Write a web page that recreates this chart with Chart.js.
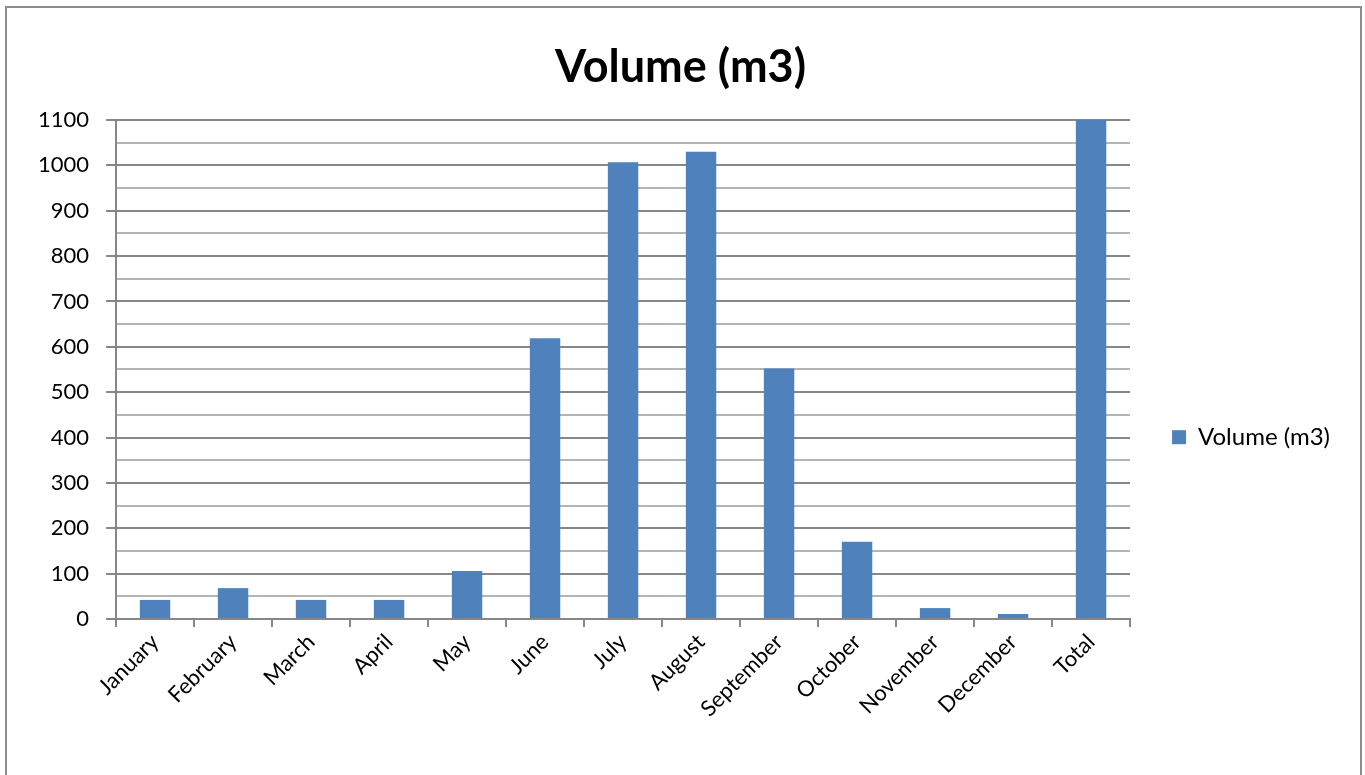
<!DOCTYPE html>
<html>
<head>
<meta charset="utf-8">
<script src="https://cdn.jsdelivr.net/npm/chart.js@4"></script>
<style>
  html, body { margin: 0; padding: 0; background: #fff; }
  #wrap { position: relative; width: 1365px; height: 775px; overflow: hidden; }
  #frame { position: absolute; left: 5px; top: 6px; width: 1357px; height: 800px; border: 2px solid #8c8c8c; box-sizing: border-box; }
  canvas { position: absolute; left: 0; top: 0; }
</style>
</head>
<body>
<div id="wrap">
  <div id="frame"></div>
  <canvas id="c" width="1365" height="775"></canvas>
</div>
<script>
// Monthly volumes plus yearly total
const categories = ['January', 'February', 'March', 'April', 'May', 'June', 'July',
  'August', 'September', 'October', 'November', 'December', 'Total'];
const volumeM3 = [42, 68, 42, 42, 106, 619, 1007, 1030, 552, 170, 24, 11, 1100];
const seriesName = 'Volume (m3)';
const yMax = 1100;
const yStep = 50;

const FONT = "Lato, 'Open Sans', sans-serif";
const MAJOR = '#878787';
const MINOR = '#b5b5b5';

new Chart(document.getElementById('c'), {
  type: 'bar',
  data: {
    labels: categories,
    datasets: [{
      label: seriesName,
      data: volumeM3,
      backgroundColor: '#4f81bd',
      borderWidth: 0,
      categoryPercentage: 1,
      barPercentage: 0.39
    }]
  },
  options: {
    responsive: false,
    devicePixelRatio: 1,
    animation: false,
    layout: { padding: { left: 21, right: 25, top: 0, bottom: 51 } },
    plugins: {
      title: {
        display: true,
        text: seriesName,
        color: '#000',
        font: { family: FONT, size: 45, weight: 'bold' },
        padding: { top: 40, bottom: 26 }
      },
      legend: {
        position: 'right',
        title: { display: true, text: '', padding: { top: 136, bottom: 0 } },
        labels: {
          color: '#000',
          font: { family: FONT, size: 24 },
          boxWidth: 14,
          boxHeight: 14,
          padding: 42
        }
      },
      tooltip: { enabled: false }
    },
    scales: {
      x: {
        grid: {
          drawOnChartArea: false,
          tickLength: 8,
          color: MAJOR,
          lineWidth: 2
        },
        border: { color: MAJOR, width: 2 },
        ticks: {
          color: '#000',
          font: { family: FONT, size: 22 },
          minRotation: 45,
          maxRotation: 45,
          padding: 2
        }
      },
      y: {
        min: 0,
        max: yMax,
        grid: {
          color: c => (c.tick && c.tick.value % 100 === 0) ? MAJOR : MINOR,
          tickColor: c => (c.tick && c.tick.value % 100 === 0) ? MAJOR : 'rgba(0,0,0,0)',
          lineWidth: 2,
          tickLength: 10
        },
        border: { color: MAJOR, width: 2 },
        ticks: {
          stepSize: yStep,
          autoSkip: false,
          color: '#000',
          font: { family: FONT, size: 22 },
          padding: 17,
          callback: v => (v % 100 === 0 ? String(v) : '')
        }
      }
    }
  }
});
</script>
</body>
</html>
